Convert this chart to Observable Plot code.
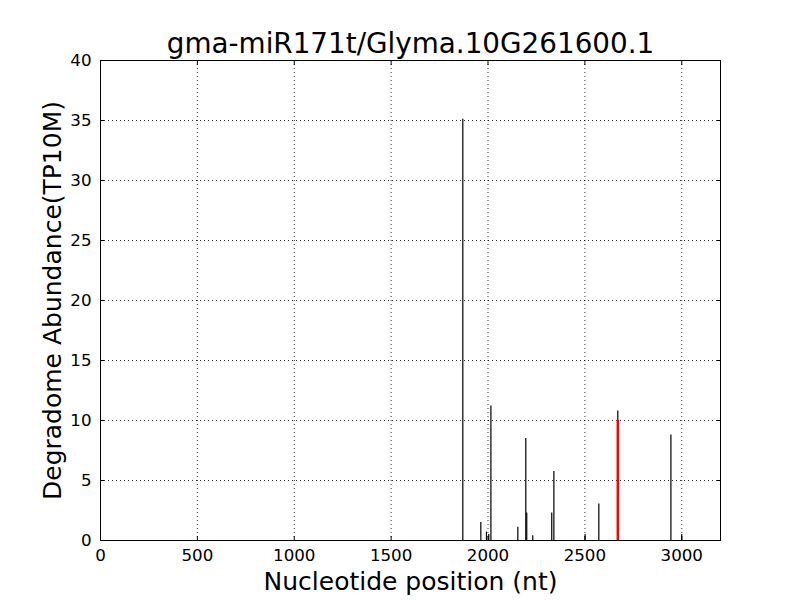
<!DOCTYPE html>
<html>
<head>
<meta charset="utf-8">
<script src="https://cdn.jsdelivr.net/npm/d3@7"></script>
<script src="https://cdn.jsdelivr.net/npm/@observablehq/plot@0.6"></script>
<style>
  html, body { margin: 0; padding: 0; background: #fff; }
  svg { font-family: "DejaVu Sans", sans-serif; }
</style>
</head>
<body>
<div id="chart"></div>
<script>
const titleText = "gma-miR171t/Glyma.10G261600.1";
const xLabel = "Nucleotide position (nt)";
const yLabel = "Degradome Abundance(TP10M)";
const positions = [1870, 1963, 1992, 2004, 2015, 2154, 2195, 2200, 2231, 2329, 2340, 2501, 2572, 2670, 2944, 3000];
const abundance = [35.1, 1.5, 0.7, 0.5, 11.2, 1.1, 8.5, 2.3, 0.4, 2.3, 5.75, 0.5, 3.05, 10.8, 8.8, 0.5];
const targetPos = [2670];
const targetVal = [10.0];
const xTicks = [0, 500, 1000, 1500, 2000, 2500, 3000];
const yTicks = [0, 5, 10, 15, 20, 25, 30, 35, 40];

const bars = positions.map((p, i) => ({x: p, y: abundance[i]}));
const target = targetPos.map((p, i) => ({x: p, y: targetVal[i]}));

const chart = Plot.plot({
  width: 800,
  height: 600,
  marginTop: 60,
  marginRight: 80,
  marginBottom: 60,
  marginLeft: 100,
  style: {fontFamily: "DejaVu Sans, sans-serif", background: "#fff"},
  x: {domain: [0, 3200]},
  y: {domain: [0, 40]},
  marks: [
    Plot.gridX(xTicks, {stroke: "#000", strokeOpacity: 1, strokeDasharray: "1,3", strokeWidth: 0.8}),
    Plot.gridY(yTicks, {stroke: "#000", strokeOpacity: 1, strokeDasharray: "1,3", strokeWidth: 0.8}),
    Plot.ruleX(bars, {x: "x", y1: 0, y2: "y", stroke: "#000", strokeWidth: 1.2}),
    Plot.ruleX(target, {x: "x", y1: 0, y2: "y", stroke: "#ff0000", strokeWidth: 2.5}),
    Plot.frame({stroke: "#000", strokeWidth: 1}),
    Plot.axisX(xTicks, {anchor: "bottom", tickSize: 0, tickPadding: 9, fontSize: 16.7, tickFormat: d => String(d), label: null}),
    Plot.axisX(xTicks, {anchor: "bottom", tickSize: -4, text: null, label: null}),
    Plot.axisX(xTicks, {anchor: "top", tickSize: -4, text: null, label: null}),
    Plot.axisY(yTicks, {anchor: "left", tickSize: 0, tickPadding: 9, fontSize: 16.7, tickFormat: d => String(d), label: null}),
    Plot.axisY(yTicks, {anchor: "left", tickSize: -4, text: null, label: null}),
    Plot.axisY(yTicks, {anchor: "right", tickSize: -4, text: null, label: null}),
    Plot.text([titleText], {frameAnchor: "top", lineAnchor: "bottom", dy: -8, fontSize: 27.8, fill: "#000"}),
    Plot.text([xLabel], {frameAnchor: "bottom", lineAnchor: "middle", dy: 41, fontSize: 25, fill: "#000"}),
    Plot.text([yLabel], {frameAnchor: "left", textAnchor: "middle", lineAnchor: "middle", dx: -48, rotate: -90, fontSize: 25, fill: "#000"})
  ]
});
document.getElementById("chart").appendChild(chart);
</script>
</body>
</html>
